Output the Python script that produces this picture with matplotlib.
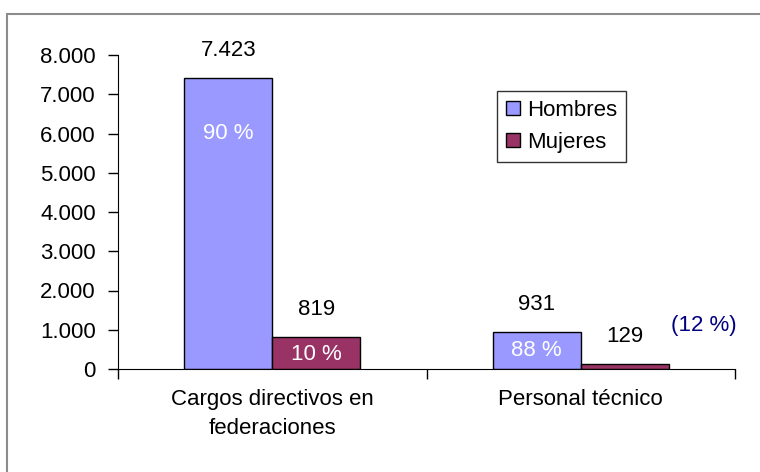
import matplotlib.pyplot as plt
import numpy as np
from matplotlib.patches import Rectangle

plt.rcParams['font.family'] = ['Liberation Sans', 'DejaVu Sans']

categories = ['Cargos directivos en\nfederaciones', 'Personal técnico']
hombres = [7423, 931]
mujeres = [819, 129]
value_labels_h = ['7.423', '931']
value_labels_m = ['819', '129']
pct_h = ['90 %', '88 %']
pct_m = ['10 %', '']
yticks = [0, 1000, 2000, 3000, 4000, 5000, 6000, 7000, 8000]
ytick_labels = ['0', '1.000', '2.000', '3.000', '4.000', '5.000', '6.000', '7.000', '8.000']

fs = 16

fig = plt.figure(figsize=(7.6, 4.72), dpi=100)
# outer chart frame
fig.patches.append(Rectangle((7 / 760, -0.05), 1.0, 1 - 14 / 472 + 0.05, transform=fig.transFigure,
                             fill=False, edgecolor='#8c8c8c', linewidth=1.5))

ax = fig.add_axes([118 / 760, 1 - 369 / 472, 617 / 760, 314 / 472])
x = np.arange(len(categories))
w = 0.285
ax.bar(x - w / 2, hombres, w, color='#9999FF', edgecolor='black', linewidth=1, label='Hombres')
ax.bar(x + w / 2, mujeres, w, color='#993366', edgecolor='black', linewidth=1, label='Mujeres')

# value labels above the bars
for i in range(len(categories)):
    ax.text(x[i] - w / 2, hombres[i] + 700, value_labels_h[i], ha='center', va='center', fontsize=fs)
    ax.text(x[i] + w / 2, mujeres[i] + 700, value_labels_m[i], ha='center', va='center', fontsize=fs)

# percentages inside the bars
ax.text(x[0] - w / 2, 6000, pct_h[0], ha='center', va='center', color='white', fontsize=fs)
ax.text(x[1] - w / 2, 480, pct_h[1], ha='center', va='center', color='white', fontsize=fs)
ax.text(x[0] + w / 2, 380, pct_m[0], ha='center', va='center', color='white', fontsize=fs)
ax.text(1.40, 1100, '(12 %)', ha='center', va='center', color='#000080', fontsize=fs)

ax.set_xlim(-0.5, 1.5)
ax.set_ylim(0, 8000)
ax.set_yticks(yticks)
ax.set_yticklabels(ytick_labels, fontsize=fs)
ax.set_xticks([-0.5, 0.5, 1.5])
ax.set_xticklabels([])
ax.tick_params(axis='both', direction='out', length=7, width=1, color='black')
ax.tick_params(axis='y', pad=9)
for i, c in enumerate(categories):
    ax.text(x[i], -520, c, ha='center', va='top', fontsize=fs, linespacing=1.45)

ax.spines['top'].set_visible(False)
ax.spines['right'].set_visible(False)

leg = ax.legend(loc='upper left', bbox_to_anchor=(0.615, 0.885), fontsize=fs, frameon=True,
                fancybox=False, edgecolor='black', handlelength=0.6, handleheight=0.6,
                handletextpad=0.35, borderpad=0.4, labelspacing=0.5, borderaxespad=0)
leg.get_frame().set_linewidth(1)

fig.savefig('out.png', dpi=100)
